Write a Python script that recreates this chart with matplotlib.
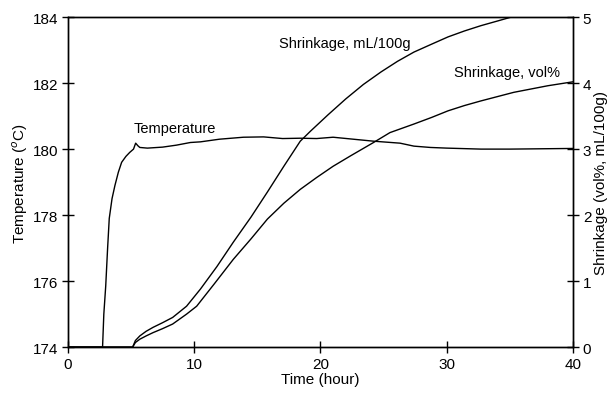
import numpy as np
import matplotlib.pyplot as plt

plt.rcParams['font.family'] = ['Liberation Sans', 'DejaVu Sans']

# temperature trace (hour, degC)
temp_t = [0, 2.75, 2.85, 3.0, 3.15, 3.28, 3.5, 3.73, 4.0, 4.26, 4.6, 4.9, 5.2, 5.37, 5.55, 5.7, 6.3, 7.5, 8.6, 9.7, 10.5, 12.0, 13.9, 15.5, 17.0, 18.4, 19.7, 21.0, 22.6, 24.2, 26.3, 27.4, 28.7, 30.0, 32.7, 35.0, 37.5, 40]
temp_c = [174, 174, 175.0, 175.85, 177.0, 177.9, 178.5, 178.9, 179.3, 179.6, 179.78, 179.9, 180.0, 180.18, 180.1, 180.05, 180.03, 180.06, 180.12, 180.2, 180.22, 180.3, 180.36, 180.37, 180.32, 180.33, 180.32, 180.36, 180.3, 180.24, 180.18, 180.09, 180.05, 180.03, 180.0, 180.0, 180.01, 180.02]

# shrinkage, mL/100g
ml_t = [0, 5.13, 5.35, 5.7, 6.2, 6.75, 7.5, 8.3, 9.4, 10.5, 11.8, 13.1, 14.5, 15.8, 17.1, 18.4, 19.2, 20.6, 22.0, 23.4, 24.8, 26.1, 27.4, 28.8, 30.1, 31.4, 32.7, 34.0, 35.1, 37.5, 40]
ml_v = [0, 0, 0.1, 0.17, 0.24, 0.3, 0.37, 0.45, 0.62, 0.88, 1.22, 1.59, 1.97, 2.35, 2.74, 3.12, 3.27, 3.52, 3.76, 3.98, 4.17, 4.33, 4.47, 4.59, 4.7, 4.79, 4.87, 4.94, 5.0, 5.12, 5.25]

# shrinkage, vol%
vol_t = [0, 5.13, 5.35, 5.7, 6.2, 6.75, 7.5, 8.3, 9.4, 10.2, 11.6, 13.1, 14.5, 15.8, 17.1, 18.4, 19.7, 21.0, 22.4, 24.2, 25.5, 27.4, 28.8, 30.1, 31.4, 32.7, 35.3, 38.0, 40]
vol_v = [0, 0, 0.07, 0.12, 0.17, 0.22, 0.28, 0.35, 0.5, 0.62, 0.96, 1.33, 1.64, 1.94, 2.18, 2.39, 2.57, 2.74, 2.9, 3.1, 3.25, 3.38, 3.48, 3.58, 3.66, 3.73, 3.86, 3.96, 4.02]

fig = plt.figure(figsize=(6.11, 4.02), dpi=100)
ax = fig.add_axes([0.111, 0.134, 0.827, 0.821])
ax.plot(temp_t, temp_c, color='black', lw=1.0)
ax.set_xlim(0, 40)
ax.set_ylim(174, 184)
ax.set_xticks([0, 10, 20, 30, 40])
ax.set_yticks([174, 176, 178, 180, 182, 184])
ax.set_xlabel('Time (hour)', fontsize=11, labelpad=1)
ax.set_ylabel('Temperature ($^{o}$C)', fontsize=11, labelpad=2)
ax.tick_params(direction='inout', length=8, width=1, labelsize=11, pad=3)
ax.tick_params(axis='y', right=False)

ax2 = ax.twinx()
ax2.plot(ml_t, ml_v, color='black', lw=1.0)
ax2.plot(vol_t, vol_v, color='black', lw=1.0)
ax2.set_ylim(0, 5)
ax2.set_yticks([0, 1, 2, 3, 4, 5])
ax2.set_ylabel('Shrinkage (vol%, mL/100g)', fontsize=11, labelpad=2)
ax2.tick_params(direction='inout', length=8, width=1, labelsize=11, pad=3)

for a in (ax, ax2):
    for s in a.spines.values():
        s.set_linewidth(1.0)

ax.annotate('Temperature', xy=(8.5, 180.65), ha='center', va='center', fontsize=10.5)
ax2.annotate('Shrinkage, mL/100g', xy=(21.9, 4.61), ha='center', va='center', fontsize=10.5)
ax2.annotate('Shrinkage, vol%', xy=(34.8, 4.17), ha='center', va='center', fontsize=10.5)

fig.savefig('out.png', dpi=100)
